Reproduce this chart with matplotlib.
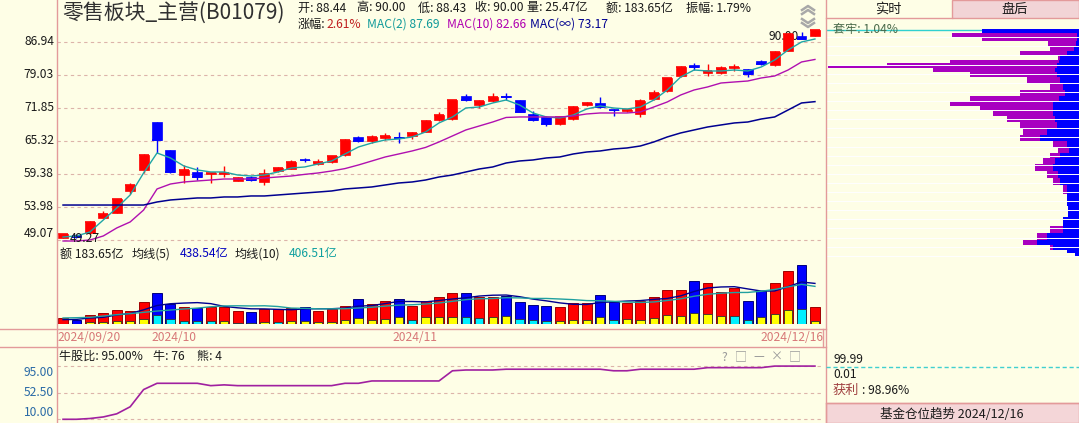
# Graphique K-line 零售板块_主营 : bougies, MAC, montants, 牛股比 et 筹码分布

import numpy as np
import matplotlib
matplotlib.use('Agg')
import matplotlib.pyplot as plt
from matplotlib.lines import Line2D
from matplotlib.patches import Rectangle

plt.rcParams['font.family'] = ['Noto Sans CJK SC', 'DejaVu Sans']
plt.rcParams['axes.unicode_minus'] = False

W, H = 1079, 423
BG = '#fefee6'
BORDER = '#e39a9a'
GRID = '#dcb4aa'
RED = '#ff0000'
BLUE = '#0000ff'

# --- données ---
date_labels = ['2024/09/20', '2024/10', '2024/11', '2024/12/16']
date_idx = [0, 7, 25, 56]

opens = [49.40, 49.80, 50.00, 52.30, 53.10, 56.50, 60.05, 68.90, 63.60, 59.25,
         59.76, 59.30, 59.30, 58.20, 58.90, 58.00, 59.80, 60.30, 61.90, 61.10,
         61.50, 62.70, 66.00, 65.25, 65.80, 66.00, 66.25, 67.10, 69.40, 69.50,
         74.40, 72.50, 73.30, 74.30, 73.50, 70.60, 69.90, 68.50, 69.50, 72.50,
         72.80, 71.50, 71.25, 70.60, 73.70, 75.50, 78.80, 81.35, 79.40, 79.50,
         80.60, 80.30, 82.40, 81.40, 84.80, 88.50, 88.44]
highs = [49.95, 49.90, 51.80, 53.40, 55.30, 57.90, 62.90, 69.00, 63.70, 60.90,
         60.60, 59.60, 60.70, 58.90, 59.10, 60.30, 60.60, 61.80, 62.20, 61.95,
         62.60, 65.60, 66.20, 66.50, 66.80, 67.10, 67.00, 69.40, 71.00, 73.60,
         74.80, 73.50, 75.00, 75.00, 73.60, 71.20, 70.20, 70.00, 72.30, 73.10,
         74.25, 71.70, 71.60, 73.80, 75.60, 78.40, 81.00, 81.90, 81.60, 81.00,
         81.60, 80.40, 82.60, 84.60, 89.10, 89.50, 90.00]
lows = [49.35, 49.27, 49.90, 52.20, 53.00, 56.10, 59.50, 63.10, 59.60, 57.80,
        58.30, 57.80, 58.90, 58.10, 58.10, 57.50, 59.70, 60.20, 61.40, 60.90,
        61.30, 62.60, 65.10, 65.00, 65.50, 65.00, 65.70, 67.00, 69.20, 69.30,
        73.30, 71.90, 73.10, 73.50, 71.00, 69.20, 68.20, 68.30, 69.30, 72.30,
        71.80, 70.20, 71.00, 69.90, 73.50, 75.30, 78.60, 80.20, 78.90, 79.20,
        80.00, 78.60, 81.30, 81.20, 84.60, 87.60, 88.43]
closes = [49.85, 49.45, 51.60, 52.90, 55.20, 57.50, 62.70, 65.50, 59.70, 60.05,
          58.90, 59.50, 59.45, 58.70, 58.30, 59.40, 60.45, 61.50, 61.75, 61.40,
          62.50, 65.50, 65.30, 66.00, 66.25, 65.85, 66.90, 69.20, 70.40, 73.50,
          73.60, 73.30, 74.10, 74.10, 71.10, 69.40, 68.60, 69.90, 72.10, 72.90,
          72.00, 71.35, 71.35, 73.30, 75.10, 78.30, 80.80, 80.80, 80.00, 80.60,
          80.80, 79.20, 81.60, 84.50, 89.00, 87.71, 90.00]

mac2 = [49.48, 49.63, 50.20, 51.98, 53.81, 55.87, 59.54, 63.08, 62.18, 60.75,
        60.06, 59.71, 59.71, 59.19, 59.02, 59.19, 59.71, 60.40, 60.58, 61.11,
        61.64, 62.90, 64.18, 64.93, 65.50, 65.69, 66.07, 67.03, 68.80, 70.00,
        71.84, 72.05, 72.89, 73.52, 72.47, 70.81, 70.00, 69.80, 70.40, 71.63,
        72.26, 71.84, 71.63, 72.05, 73.52, 75.68, 78.58, 80.18, 79.95, 79.95,
        80.18, 79.95, 80.88, 82.53, 84.95, 86.94, 87.69]
mac10 = [48.91, 48.91, 49.05, 49.63, 50.79, 51.68, 53.49, 56.85, 57.67, 58.01,
         58.18, 58.34, 58.51, 58.51, 58.51, 58.68, 58.85, 59.02, 59.30, 59.54,
         59.88, 60.30, 60.93, 61.64, 62.36, 62.90, 63.45, 64.10, 65.12, 66.26,
         67.42, 68.20, 68.99, 69.90, 70.00, 70.00, 70.00, 70.00, 70.20, 70.61,
         70.81, 70.81, 70.81, 71.02, 72.05, 73.10, 74.59, 75.68, 76.34, 77.22,
         77.45, 77.67, 78.35, 78.80, 80.18, 82.06, 82.66]
mac_inf = [54.27, 54.27, 54.27, 54.27, 54.27, 54.27, 54.27, 54.75, 55.07, 55.23,
           55.39, 55.39, 55.55, 55.55, 55.71, 55.71, 55.87, 56.03, 56.19, 56.35,
           56.52, 56.85, 57.01, 57.18, 57.51, 57.84, 58.01, 58.34, 58.85, 59.19,
           59.71, 60.23, 60.58, 61.28, 61.64, 61.82, 62.18, 62.36, 62.90, 63.26,
           63.45, 63.81, 64.00, 64.37, 65.12, 66.07, 66.84, 67.42, 68.00, 68.40,
           68.80, 68.99, 69.59, 70.00, 71.43, 72.89, 73.17]

# montants en 亿
amount = [65, 47, 101, 122, 155, 144, 241, 338, 219, 187,
          169, 187, 187, 144, 133, 162, 162, 169, 187, 144,
          162, 198, 273, 219, 252, 273, 198, 252, 295, 331,
          338, 295, 295, 306, 241, 209, 198, 187, 230, 230,
          317, 234, 230, 252, 295, 371, 371, 468, 440, 349,
          385, 252, 353, 447, 576, 641, 183.65]
amount_ma5 = [47, 50, 65, 72, 98, 114, 153, 200, 219, 226,
              231, 220, 190, 175, 164, 163, 158, 154, 163, 165,
              165, 172, 193, 199, 221, 243, 243, 239, 254, 270,
              283, 302, 311, 313, 295, 269, 250, 228, 213, 211,
              232, 240, 248, 253, 266, 276, 304, 351, 389, 400,
              403, 379, 356, 357, 403, 454, 438.54]
amount_ma10 = [65, 68, 72, 86, 101, 112, 126, 140, 151, 162,
               172, 186, 195, 197, 195, 197, 189, 172, 169, 164,
               164, 165, 173, 181, 193, 204, 208, 216, 227, 245,
               263, 273, 275, 284, 282, 276, 276, 270, 263, 253,
               251, 245, 238, 233, 238, 254, 272, 300, 321, 333,
               340, 341, 354, 373, 401, 428, 406.51]
# barres internes : positif jaune, négatif cyan
flow = [0, 0, 18, 25, 36, 29, 54, -101, -54, -36,
        -36, -36, 36, -15, -11, 25, -25, 36, 32, 22,
        22, 43, 65, 43, 54, 72, -47, 72, 72, 72,
        -72, -65, 72, 90, -54, -43, -36, 36, 47, 43,
        72, -43, 54, 43, 65, 101, 90, 122, 108, 86,
        -90, -43, 79, 108, 155, -162, 36]

bull_ratio = [10, 10, 11.25, 13.75, 18.75, 30, 57.5, 67.5, 67.5, 67.5,
              67.5, 63.75, 65, 63.75, 63.75, 63.75, 63.75, 63.75, 63.75, 63.75,
              63.75, 67.5, 67.5, 71.25, 71.25, 71.25, 71.25, 71.25, 71.25, 87.5,
              88.75, 88.75, 88.75, 90, 90, 90, 90, 90, 90, 90,
              90, 87.5, 87.5, 90, 90, 90, 90, 90, 92.5, 92.5,
              92.5, 92.5, 92.5, 95, 95, 95, 95]
bull_count, bear_count = 76, 4

price_ticks = [86.94, 79.03, 71.85, 65.32, 59.38, 53.98, 49.07]
ratio_ticks = [95.0, 52.5, 10.0]

# 筹码分布
chip_price = [89.75, 88.85, 87.70, 86.44, 85.20, 84.22, 83.01, 82.06, 81.35, 81.00,
              80.30, 79.15, 77.90, 76.45, 74.92, 73.84, 72.78, 71.74, 70.91, 69.69,
              68.20, 67.12, 65.97, 64.56, 63.54, 62.63, 61.73, 60.49, 59.19, 58.09,
              56.93, 55.07, 53.11, 51.68, 50.50, 49.55, 48.70, 48.00, 47.45, 47.04]
chip_total = [97, 127, 97, 31, 29, 59, 21, 129, 192, 251,
              146, 109, 52, 29, 59, 109, 129, 99, 86, 72,
              59, 56, 59, 26, 21, 29, 36, 44, 32, 26,
              16, 12, 11, 16, 29, 42, 56, 29, 12, 4]
chip_old = [97, 2, 2, 3, 5, 12, 19, 20, 22, 22,
            24, 22, 19, 16, 14, 20, 26, 26, 26, 24,
            22, 32, 39, 12, 10, 19, 24, 26, 21, 19,
            12, 12, 11, 16, 16, 32, 42, 26, 12, 4]

volume_yi = 25.47
trapped_pct = 1.04
profit_pct = 98.96


def fx(px):
    return px / W


def fy(py):
    return 1 - py / H


def add_axes_px(fig, x0, y0, x1, y1):
    """Axes placé en pixels (origine en haut à gauche)"""
    ax = fig.add_axes([fx(x0), fy(y1), (x1 - x0) / W, (y1 - y0) / H])
    ax.set_facecolor('none')
    for s in ax.spines.values():
        s.set_visible(False)
    return ax


def clear_ticks(ax):
    ax.set_xticks([])
    ax.set_yticks([])
    ax.set_yticks([], minor=True)


def fig_line(fig, xs, ys, **kw):
    fig.add_artist(Line2D([fx(v) for v in xs], [fy(v) for v in ys], **kw))


def fig_text(fig, x, y, s, **kw):
    kw.setdefault('fontsize', 8.7)
    kw.setdefault('va', 'center')
    kw.setdefault('color', '#1a1a1a')
    fig.text(fx(x), fy(y), s, **kw)


fig = plt.figure(figsize=(W / 100, H / 100), dpi=100, facecolor=BG)

o = np.array(opens)
h = np.array(highs)
l = np.array(lows)
c = np.array(closes)
n = len(c)
x = np.arange(n)
XLIM = (-0.45, n - 0.4)
up = c >= o
colors = np.where(up, RED, BLUE)

# 1. Prix (échelle log)
ax_p = add_axes_px(fig, 57, 22, 823, 247)
ax_p.set_yscale('log')
ax_p.set_ylim(48.07, 92.11)
ax_p.set_xlim(XLIM)
clear_ticks(ax_p)
ytr = ax_p.get_yaxis_transform()
for i, t in enumerate(price_ticks):
    ax_p.axhline(t, color=GRID, lw=0.8, ls=(0, (3, 3)), zorder=0)
    va = 'bottom' if i == len(price_ticks) - 1 else 'center'
    ax_p.text(-0.004, t, f'{t:.2f}', transform=ytr, ha='right', va=va,
              fontsize=8.7, color='#1a1a1a')

ax_p.vlines(x, l, h, colors=colors, lw=1, zorder=3)
ax_p.bar(x, np.abs(c - o), bottom=np.minimum(o, c), width=0.74,
         color=colors, edgecolor=colors, lw=0.5, zorder=4)
ax_p.hlines(c, x - 0.37, x + 0.37, colors=colors, lw=1.2, zorder=4)

ax_p.plot(x, mac2, color='#1fa5a5', lw=1, zorder=5)
ax_p.plot(x, mac10, color='#b010b0', lw=1, zorder=5)
ax_p.plot(x, mac_inf, color='#000090', lw=1.1, zorder=5)

hi = int(np.argmax(h))
lo = int(np.argmin(l))
ax_p.text(hi - 1.2, h[hi], f'{h[hi]:.2f}', ha='right', va='top',
          fontsize=8.7, color='#1a1a1a', zorder=2)
ax_p.text(lo - 0.5, l[lo], f'{l[lo]:.2f}', ha='left', va='center',
          fontsize=8.7, color='#1a1a1a', zorder=6)

# 2. Montants
ax_v = add_axes_px(fig, 57, 258, 823, 324)
ax_v.set_ylim(0, 713)
ax_v.set_xlim(XLIM)
clear_ticks(ax_v)
edge = np.where(up, '#a00000', '#000080')
ax_v.bar(x, amount, width=0.74, color=colors, edgecolor=edge, lw=0.7, zorder=2)
fl = np.array(flow)
m = fl != 0
ax_v.bar(x[m], np.abs(fl[m]), width=0.62,
         color=np.where(fl[m] > 0, '#ffff00', '#00f0ff'),
         edgecolor='#303030', lw=0.6, zorder=3)
ax_v.plot(x, amount_ma5, color='#000090', lw=1, zorder=4)
ax_v.plot(x, amount_ma10, color='#20a0a0', lw=1, zorder=4)

xtr = ax_v.get_xaxis_transform()
for idx, lab in zip(date_idx, date_labels):
    if idx == n - 1:
        ax_v.text(XLIM[1], -0.2, lab, transform=xtr, ha='right', va='center',
                  fontsize=8.7, color='#d87878')
    else:
        ax_v.text(idx - 0.45, -0.2, lab, transform=xtr, ha='left', va='center',
                  fontsize=8.7, color='#d87878')

# 3. 牛股比
ax_b = add_axes_px(fig, 57, 347, 823, 423)
ax_b.set_ylim(4.07, 125.5)
ax_b.set_xlim(XLIM)
clear_ticks(ax_b)
btr = ax_b.get_yaxis_transform()
for t, va in zip(ratio_ticks, ['top', 'center', 'bottom']):
    ax_b.axhline(t, color=GRID, lw=0.8, ls=(0, (3, 3)), zorder=0)
    ax_b.text(-0.004, t, f'{t:.2f}', transform=btr, ha='right', va=va,
              fontsize=8.7, color='#2a6aa6')
ax_b.plot(x, bull_ratio, color='#a020a0', lw=1.2)

# 4. 筹码分布
ax_c = add_axes_px(fig, 826, 22, 1079, 258)
ax_c.set_yscale('log')
ax_c.set_ylim(46.57, 92.11)
ax_c.set_xlim(253, 0)
clear_ticks(ax_c)
lp = np.log(chip_price)
mid = (lp[:-1] + lp[1:]) / 2
top = np.concatenate([[lp[0] + (lp[0] - mid[0])], mid])
bot = np.concatenate([mid, [lp[-1] - (mid[-1] - lp[-1])]])
y_lo = np.exp(bot)
y_hi = np.exp(top)
ax_c.axhline(c[-1], color='#30d0d0', lw=1, zorder=1)
ax_c.barh(y_lo, chip_total, height=y_hi - y_lo, align='edge', color='#a800c0', lw=0, zorder=2)
ax_c.barh(y_lo, chip_old, height=y_hi - y_lo, align='edge', color=BLUE, lw=0, zorder=3)
for yy in np.arange(37.3, 256, 9.1):
    ax_c.plot([0, 1], [(258 - yy) / 236] * 2, transform=ax_c.transAxes,
              color='white', lw=0.7, zorder=4)

# bordures
fig_line(fig, [57, 57], [0, 423], color=BORDER, lw=1)
fig_line(fig, [825.5, 825.5], [0, 423], color=BORDER, lw=1)
fig_line(fig, [822.5, 822.5], [329, 347], color=BORDER, lw=1)
fig_line(fig, [0, 826], [329, 329], color=BORDER, lw=1)
fig_line(fig, [0, 826], [347, 347], color=BORDER, lw=1)
fig_line(fig, [826, 1079], [403, 403], color=BORDER, lw=1)

# onglets
fig.add_artist(Rectangle((fx(952), fy(18)), (1079 - 952) / W, 18 / H,
                         facecolor='#f2d4d6', edgecolor=BORDER, lw=1))
fig_line(fig, [826, 952], [18, 18], color=BORDER, lw=1)
fig_text(fig, 888, 9, '实时', ha='center', fontsize=9.5)
fig_text(fig, 1015, 9, '盘后', ha='center', fontsize=9.5)

# en-tête
fig_text(fig, 62, 13, '零售板块_主营(B01079)', fontsize=15, color='#303030')
fig_text(fig, 298, 8, f'开: {o[-1]:.2f}')
fig_text(fig, 357, 8, f'高: {h[-1]:.2f}')
fig_text(fig, 418, 8, f'低: {l[-1]:.2f}')
fig_text(fig, 475, 8, f'收: {c[-1]:.2f}')
fig_text(fig, 527, 8, f'量: {volume_yi:.2f}亿')
fig_text(fig, 606, 8, f'额: {amount[-1]:.2f}亿')
amp = (h[-1] - l[-1]) / c[-2] * 100
fig_text(fig, 686, 8, f'振幅: {amp:.2f}%')
chg = (c[-1] / c[-2] - 1) * 100
fig_text(fig, 298, 24, '涨幅:')
fig_text(fig, 326, 24, f'{chg:.2f}%', color='#c02020')
fig_text(fig, 367, 24, f'MAC(2) {mac2[-1]:.2f}', color='#109a9a')
fig_text(fig, 447, 24, f'MAC(10) {mac10[-1]:.2f}', color='#b000b0')
fig_text(fig, 530, 24, f'MAC(∞) {mac_inf[-1]:.2f}', color='#000090')

# chevrons
for y0, d in [(10, -1), (14, -1), (19, 1), (23, 1)]:
    fig_line(fig, [802, 808, 814], [y0, y0 + 4 * d, y0], color='#a8a8a8', lw=1.8)

# en-tête montants
fig_text(fig, 60, 254, f'额 {amount[-1]:.2f}亿')
fig_text(fig, 132, 254, '均线(5)')
fig_text(fig, 180, 254, f'{amount_ma5[-1]:.2f}亿', color='#0000c0')
fig_text(fig, 235, 254, '均线(10)')
fig_text(fig, 289, 254, f'{amount_ma10[-1]:.2f}亿', color='#10a0a0')

# en-tête 牛股比
fig_text(fig, 59, 356, f'牛股比: {bull_ratio[-1]:.2f}%')
fig_text(fig, 153, 356, f'牛: {bull_count}')
fig_text(fig, 197, 356, f'熊: {bear_count}')
for xi, s in zip([724, 741, 759, 777, 795], ['?', '□', '—', '×', '□']):
    fig_text(fig, xi, 357, s, color='#9a9a9a', ha='center')

# panneau droit
fig_text(fig, 833, 30, f'套牢: {trapped_pct:.2f}%', color='#4a6a4a')
fig_text(fig, 833, 359, '99.99')
fig_line(fig, [826, 1079], [367, 367], color='#40d0d0', lw=1, ls=(0, (3, 2)))
fig_text(fig, 833, 374, '0.01')
fig_text(fig, 833, 390, '获利', color='#a04040', fontsize=9.5)
fig_text(fig, 862, 390, f': {profit_pct:.2f}%')
fig.add_artist(Rectangle((fx(826), fy(423)), (1079 - 826) / W, 20 / H,
                         facecolor='#f4d6d8', edgecolor=BORDER, lw=1))
fig_text(fig, 952, 414, '基金仓位趋势 2024/12/16', ha='center', fontsize=9)

plt.savefig('out.png', dpi=100, facecolor=BG)
